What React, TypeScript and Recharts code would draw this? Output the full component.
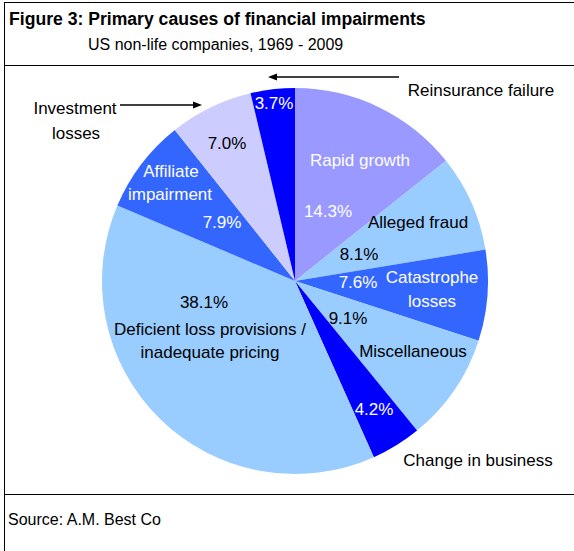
import { PieChart, Pie, Cell } from 'recharts'

const causes = [
  'Rapid growth',
  'Alleged fraud',
  'Catastrophe losses',
  'Miscellaneous',
  'Change in business',
  'Deficient loss provisions / inadequate pricing',
  'Affiliate impairment',
  'Investment losses',
  'Reinsurance failure',
]
const shares = [14.3, 8.1, 7.6, 9.1, 4.2, 38.1, 7.9, 7.0, 3.7]

const colors = ['#9999FF', '#99CCFF', '#3366FF', '#99CCFF', '#0000FF', '#99CCFF', '#3366FF', '#CCCCFF', '#0000FF']

// label placement relative to the pie centre (layout only)
type Txt = { dx: number; dy: number; text: string; fill: string }
const W = '#ffffff'
const K = '#000000'
const labelLayout: Txt[][] = [
  [
    { dx: 65, dy: -121, text: 'Rapid growth', fill: W },
    { dx: 33, dy: -70, text: '{pct}', fill: W },
  ],
  [
    { dx: 123, dy: -59, text: 'Alleged fraud', fill: K },
    { dx: 64, dy: -27, text: '{pct}', fill: K },
  ],
  [
    { dx: 137, dy: -4, text: 'Catastrophe', fill: W },
    { dx: 137, dy: 20, text: 'losses', fill: W },
    { dx: 63, dy: 1, text: '{pct}', fill: W },
  ],
  [
    { dx: 53, dy: 37, text: '{pct}', fill: K },
    { dx: 118, dy: 70, text: 'Miscellaneous', fill: K },
  ],
  [
    { dx: 79, dy: 128, text: '{pct}', fill: W },
    { dx: 183, dy: 179, text: 'Change in business', fill: K },
  ],
  [
    { dx: -91, dy: 21, text: '{pct}', fill: K },
    { dx: -85, dy: 48, text: 'Deficient loss provisions /', fill: K },
    { dx: -85, dy: 71, text: 'inadequate pricing', fill: K },
  ],
  [
    { dx: -124, dy: -110, text: 'Affiliate', fill: W },
    { dx: -125, dy: -87, text: 'impairment', fill: W },
    { dx: -73, dy: -59, text: '{pct}', fill: W },
  ],
  [
    { dx: -68, dy: -138, text: '{pct}', fill: K },
    { dx: -220, dy: -173, text: 'Investment', fill: K },
    { dx: -219, dy: -148, text: 'losses', fill: K },
  ],
  [
    { dx: -21, dy: -178, text: '{pct}', fill: W },
    { dx: 186, dy: -191, text: 'Reinsurance failure', fill: K },
  ],
]

const data = causes.map((name, i) => ({ name, value: shares[i] }))

const FONT = "Arial, 'Liberation Sans', sans-serif"

function renderLabel(props: any) {
  const { cx, cy, index } = props
  const items = labelLayout[index] || []
  return (
    <g key={`lbl-${index}`}>
      {items.map((t, j) => (
        <text
          key={j}
          x={cx + t.dx}
          y={cy + t.dy}
          fill={t.fill}
          textAnchor="middle"
          dominantBaseline="central"
          fontSize={17}
          fontFamily={FONT}
        >
          {t.text === '{pct}' ? `${shares[index].toFixed(1)}%` : t.text}
        </text>
      ))}
    </g>
  )
}

export default function App() {
  return (
    <div
      style={{
        position: 'absolute',
        left: 0,
        top: 0,
        width: 574,
        height: 551,
        background: '#fff',
        fontFamily: FONT,
        overflow: 'hidden',
      }}
    >
      {/* frame */}
      <div style={{ position: 'absolute', left: 4, top: 2, width: 570, height: 1, background: '#000' }} />
      <div style={{ position: 'absolute', left: 4, top: 2, width: 1, height: 549, background: '#000' }} />
      <div style={{ position: 'absolute', left: 4, top: 65, width: 570, height: 1, background: '#000' }} />
      <div style={{ position: 'absolute', left: 4, top: 494, width: 570, height: 1, background: '#000' }} />

      <div style={{ position: 'absolute', left: 9, top: 9, fontSize: 17.6, lineHeight: '20px', fontWeight: 'bold', whiteSpace: 'nowrap' }}>
        Figure 3: Primary causes of financial impairments
      </div>
      <div style={{ position: 'absolute', left: 88, top: 35, fontSize: 16, lineHeight: '20px', whiteSpace: 'nowrap' }}>
        US non-life companies, 1969 - 2009
      </div>
      <div style={{ position: 'absolute', left: 8, top: 510, fontSize: 16, lineHeight: '20px', whiteSpace: 'nowrap' }}>
        Source: A.M. Best Co
      </div>

      <div style={{ position: 'absolute', left: 0, top: 0 }}>
        <PieChart width={574} height={551} margin={{ top: 0, right: 0, bottom: 0, left: 0 }}>
          <Pie
            data={data}
            dataKey="value"
            nameKey="name"
            cx={295}
            cy={281}
            outerRadius={193}
            startAngle={90}
            endAngle={-270}
            stroke="none"
            label={renderLabel}
            labelLine={false}
            isAnimationActive={false}
          >
            {data.map((d, i) => (
              <Cell key={d.name} fill={colors[i]} />
            ))}
          </Pie>
        </PieChart>
      </div>

      {/* arrows */}
      <svg width={574} height={551} style={{ position: 'absolute', left: 0, top: 0, pointerEvents: 'none' }}>
        <line x1={399} y1={77} x2={276} y2={77} stroke="#000" strokeWidth={1.5} />
        <polygon points="268,77 277,73.5 277,80.5" fill="#000" />
        <line x1={120} y1={105} x2={194} y2={105} stroke="#000" strokeWidth={1.5} />
        <polygon points="202,105 193,101.5 193,108.5" fill="#000" />
      </svg>
    </div>
  )
}
